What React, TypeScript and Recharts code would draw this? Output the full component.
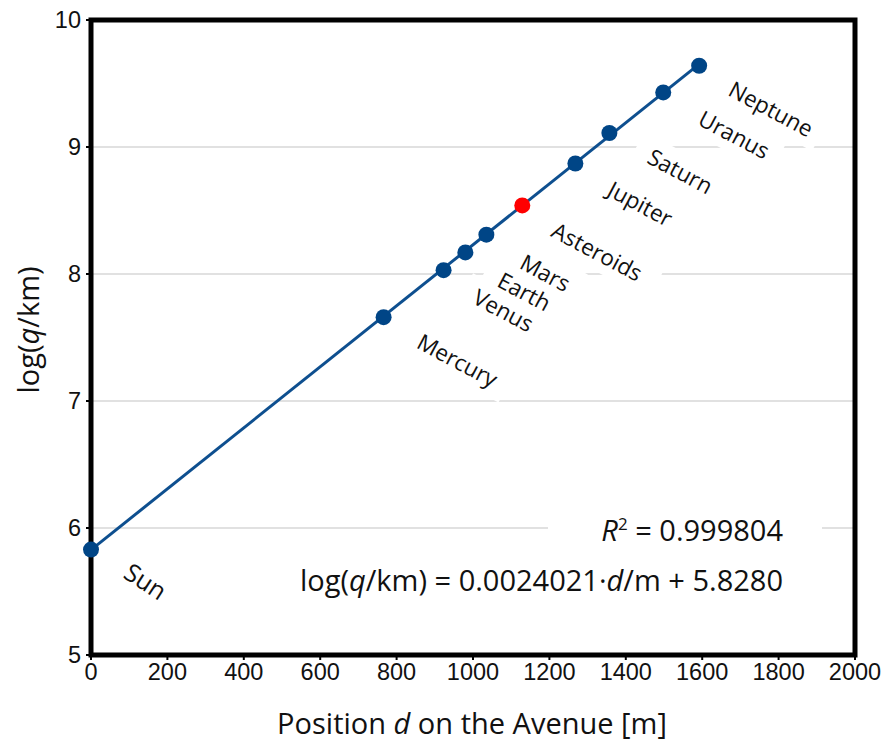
import React from 'react';
import { ComposedChart, XAxis, YAxis, CartesianGrid, Scatter, Line, ReferenceArea } from 'recharts';

// ---- data ----
const bodyNames = ['Sun', 'Mercury', 'Venus', 'Earth', 'Mars', 'Asteroids', 'Jupiter', 'Saturn', 'Uranus', 'Neptune'];
const positionD = [0, 766, 923, 980, 1035, 1129, 1268, 1357, 1498, 1592];
const logQ = [5.83, 7.66, 8.03, 8.17, 8.31, 8.54, 8.87, 9.11, 9.43, 9.64];
const fitD = [0, 1592];
const fitLogQ = [5.828, 9.652];
const xTicks = [0, 200, 400, 600, 800, 1000, 1200, 1400, 1600, 1800, 2000];
const yTicks = [5, 6, 7, 8, 9, 10];
const rSquared = '0.999804';
const slope = '0.0024021';
const intercept = '5.8280';

// ---- layout / style (not data) ----
const W = 884;
const H = 743;
const BLUE = '#004586';
const LINE_BLUE = '#0e4f8f';
const FONT = '"Open Sans", "DejaVu Sans", sans-serif';
const TICK_FONT = '"Liberation Sans", Arial, sans-serif';
const labelOffsets: Record<string, [number, number, number, number]> = {
  // dx, dy, angle, fontSize
  Sun: [55, 31, 33, 25],
  Mercury: [74, 43, 28, 22.5],
  Venus: [60, 40, 28, 22.5],
  Earth: [59, 39, 28, 22.5],
  Mars: [59, 38, 28, 22.5],
  Asteroids: [75, 46, 28, 22.5],
  Jupiter: [65, 40, 28, 22.5],
  Saturn: [71, 38, 28, 22.5],
  Uranus: [71, 42, 28, 22.5],
  Neptune: [72, 43, 28, 22.5],
};

const points = bodyNames.map((name, i) => ({ name, d: positionD[i], q: logQ[i] }));
const fitData = fitD.map((d, i) => ({ d, q: fitLogQ[i] }));

const LabelBox = (props: any) => {
  const { cx, cy, payload } = props;
  if (cx == null || cy == null) return null;
  const [dx, dy, ang, fs] = labelOffsets[payload.name];
  const tw = payload.name.length * fs * 0.52;
  const rw = tw + 30;
  const rh = fs + 14;
  return (
    <g transform={`translate(${cx + dx},${cy + dy}) rotate(${ang})`}>
      <rect x={-rw / 2} y={-rh / 2} width={rw} height={rh} fill="#fff" />
    </g>
  );
};

const LabelText = (props: any) => {
  const { cx, cy, payload } = props;
  if (cx == null || cy == null) return null;
  const [dx, dy, ang, fs] = labelOffsets[payload.name];
  return (
    <g transform={`translate(${cx + dx},${cy + dy}) rotate(${ang})`}>
      <text
        x={0}
        y={0}
        textAnchor="middle"
        dominantBaseline="central"
        fontFamily={FONT}
        fontSize={fs}
        fill="#111"
      >
        {payload.name}
      </text>
    </g>
  );
};

const DotShape = (props: any) => {
  const { cx, cy, payload } = props;
  if (cx == null || cy == null) return null;
  return <circle cx={cx} cy={cy} r={8} fill={payload.name === 'Asteroids' ? '#ff0000' : BLUE} />;
};

export default function App() {
  return (
    <div style={{ position: 'absolute', left: 0, top: 0, width: W, height: H, background: '#fff' }}>
      <ComposedChart width={W} height={H} margin={{ top: 20, right: 29, bottom: 0, left: 0 }}>
        <CartesianGrid horizontal vertical={false} stroke="#c4c4c4" strokeWidth={1.2} />
        <XAxis
          type="number"
          dataKey="d"
          domain={[0, 2000]}
          ticks={xTicks}
          interval={0}
          height={88}
          axisLine={false}
          tickLine={{ stroke: '#000', strokeWidth: 2 }}
          tickSize={5}
          tickMargin={3}
          tick={{ fontSize: 23.5, fill: '#111', fontFamily: TICK_FONT }}
        />
        <YAxis
          type="number"
          dataKey="q"
          domain={[5, 10]}
          ticks={yTicks}
          interval={0}
          width={91}
          axisLine={false}
          tickLine={{ stroke: '#000', strokeWidth: 2 }}
          tickSize={5}
          tickMargin={5}
          tick={{ fontSize: 23.5, fill: '#111', fontFamily: TICK_FONT }}
        />
        <Scatter data={points} dataKey="q" shape={LabelBox} isAnimationActive={false} />
        <Scatter data={points} dataKey="q" shape={LabelText} isAnimationActive={false} />
        <ReferenceArea x1={0} x2={2000} y1={5} y2={10} fill="none" fillOpacity={0} stroke="#000" strokeWidth={5} />
        <Line
          data={fitData}
          dataKey="q"
          type="linear"
          stroke={LINE_BLUE}
          strokeWidth={3}
          dot={false}
          activeDot={false}
          isAnimationActive={false}
        />
        <Scatter data={points} dataKey="q" shape={DotShape} isAnimationActive={false} />
      </ComposedChart>
      <svg
        width={W}
        height={H}
        style={{ position: 'absolute', left: 0, top: 0, pointerEvents: 'none' }}
      >
        <text
          transform="translate(27,330) rotate(-90)"
          textAnchor="middle"
          dominantBaseline="central"
          fontFamily={FONT}
          fontSize={29}
          fill="#111"
        >
          log(<tspan fontStyle="italic">q</tspan>/km)
        </text>
        <text x={472} y={722} textAnchor="middle" dominantBaseline="central" fontFamily={FONT} fontSize={29} fill="#111">
          Position <tspan fontStyle="italic">d</tspan> on the Avenue [m]
        </text>
        <rect x={548} y={510} width={274} height={40} fill="#fff" />
        <text x={783} y={541} textAnchor="end" fontFamily={FONT} fontSize={29} fill="#111">
          <tspan fontStyle="italic">R</tspan>
          <tspan dy={-11} fontSize={17}>2</tspan>
          <tspan dy={11}>{` = ${rSquared}`}</tspan>
        </text>
        <text x={783} y={591} textAnchor="end" fontFamily={FONT} fontSize={29} fill="#111">
          log(<tspan fontStyle="italic">q</tspan>/km) = {slope}·<tspan fontStyle="italic">d</tspan>/m + {intercept}
        </text>
      </svg>
    </div>
  );
}
